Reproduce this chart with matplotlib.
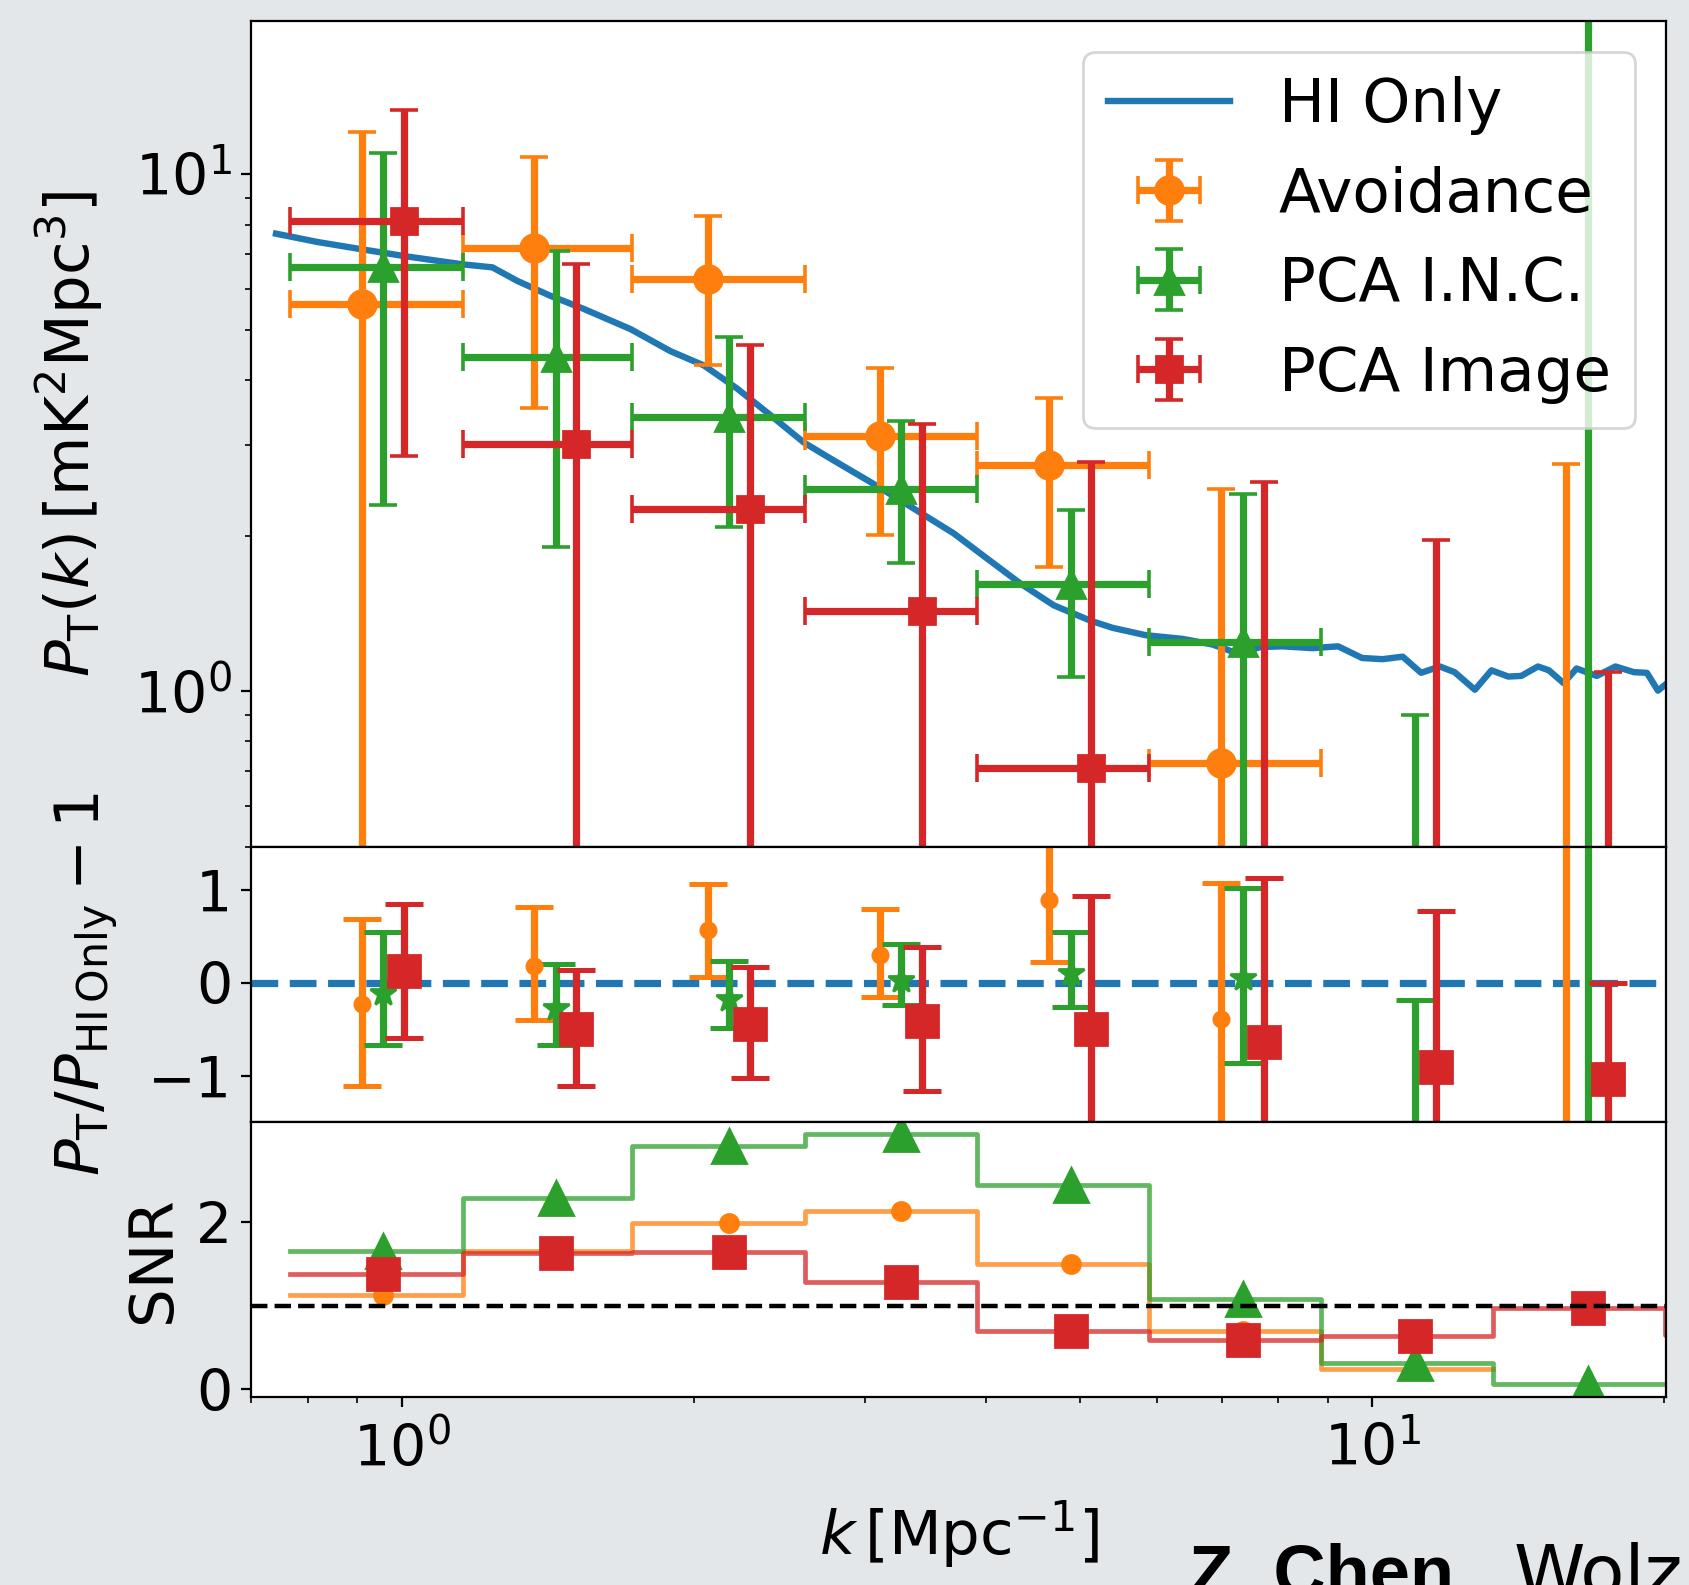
"""Binned transfer-function check: recovered P_T(k) against the HI-only spectrum."""

import numpy as np
import matplotlib

matplotlib.use("Agg")

import matplotlib.pyplot as plt

nan = np.nan

# k bins [1/Mpc]
k_edges = [0.767, 1.155, 1.727, 2.603, 3.914, 5.886, 8.862, 13.31, 20.03]
k_centres = [0.957, 1.441, 2.175, 3.273, 4.890, 7.361, 11.08, 16.67]

# HI-only reference spectrum
k_hi = [0.742, 0.819, 0.907, 1.006, 1.155, 1.240, 1.316, 1.424, 1.541, 1.721,
        1.892, 2.048, 2.217, 2.399, 2.596, 2.766, 3.041, 3.291, 3.706, 4.011,
        4.341, 4.697, 5.124, 5.400, 5.844, 6.379, 6.844, 7.278, 7.672, 8.087,
        8.676, 9.223, 9.764, 10.25, 10.75, 11.23, 11.74, 12.16, 12.76, 13.27,
        13.81, 14.24, 14.82, 15.21, 15.75, 16.24, 17.04, 17.81, 18.61, 19.19,
        19.70, 20.13]
p_hi = [7.68, 7.40, 7.17, 6.95, 6.70, 6.61, 6.22, 5.82, 5.49, 5.02,
        4.55, 4.27, 3.85, 3.42, 3.03, 2.82, 2.54, 2.32, 2.02, 1.806,
        1.616, 1.467, 1.370, 1.327, 1.284, 1.263, 1.232, 1.183, 1.218, 1.222,
        1.212, 1.222, 1.160, 1.154, 1.167, 1.086, 1.117, 1.089, 1.007, 1.098,
        1.068, 1.071, 1.117, 1.098, 1.037, 1.107, 1.071, 1.117, 1.089, 1.086,
        1.003, 1.037]

methods = ["Avoidance", "PCA I.N.C.", "PCA Image"]

# P_T(k) [mK^2 Mpc^3] with lower / upper ends of the 1-sigma bars
p_avoid = [5.61, 7.19, 6.29, 3.115, 2.735, 0.728, nan, -0.8]
p_avoid_lo = [-0.85, 3.53, 4.28, 2.01, 1.74, -1.0, nan, -4.3]
p_avoid_hi = [12.07, 10.80, 8.31, 4.23, 3.69, 2.46, nan, 2.75]

p_inc = [6.63, 4.43, 3.39, 2.465, 1.616, 1.243, -0.4, 25.0]
p_inc_lo = [2.296, 1.902, 2.08, 1.774, 1.067, -0.1, -1.7, -375.0]
p_inc_hi = [11.02, 7.11, 4.84, 3.33, 2.245, 2.41, 0.898, 425.0]

p_img = [8.12, 3.01, 2.255, 1.431, 0.710, 0.44, 0.11, 0.02]
p_img_lo = [2.85, -0.68, -0.17, -0.43, -1.36, -1.66, -1.74, -1.05]
p_img_hi = [13.35, 6.70, 4.68, 3.29, 2.78, 2.54, 1.963, 1.089]

# P_T / P_HI - 1
r_avoid = [-0.222, 0.186, 0.565, 0.297, 0.893, -0.386, nan, -1.75]
r_avoid_lo = [-1.107, -0.40, 0.064, -0.150, 0.225, -1.84, nan, -5.0]
r_avoid_hi = [0.686, 0.822, 1.064, 0.797, 1.56, 1.072, nan, 1.6]

r_inc = [-0.107, -0.275, -0.170, 0.036, 0.107, 0.054, -1.8, 22.0]
r_inc_lo = [-0.668, -0.668, -0.482, -0.239, -0.257, -0.857, -3.4, -330.0]
r_inc_hi = [0.554, 0.204, 0.232, 0.422, 0.554, 1.018, -0.179, 374.0]

r_img = [0.132, -0.493, -0.447, -0.411, -0.493, -0.632, -0.90, -1.03]
r_img_lo = [-0.589, -1.107, -1.025, -1.161, -1.92, -2.39, -2.58, -2.07]
r_img_hi = [0.850, 0.143, 0.171, 0.386, 0.936, 1.125, 0.78, 0.0]

# signal-to-noise per bin (last red bin runs past the plotted range)
snr_edges = k_edges + [30.0]
snr_avoid = [1.13, 1.66, 1.99, 2.14, 1.50, 0.70, 0.245, nan, nan]
snr_inc = [1.66, 2.29, 2.91, 3.06, 2.45, 1.08, 0.31, 0.064, nan]
snr_img = [1.375, 1.63, 1.64, 1.29, 0.70, 0.59, 0.64, 0.97, 0.65]

COLORS = {"Avoidance": "#ff7f0e", "PCA I.N.C.": "#2ca02c", "PCA Image": "#d62728"}
DODGE = {"Avoidance": 0.95, "PCA I.N.C.": 1.0, "PCA Image": 1.05}
MARK_P = {"Avoidance": ("o", 10), "PCA I.N.C.": ("^", 10), "PCA Image": ("s", 9.6)}
MARK_R = {"Avoidance": ("o", 5.5), "PCA I.N.C.": ("*", 10), "PCA Image": ("s", 11.5)}
MARK_S = {"Avoidance": ("o", 6.5), "PCA I.N.C.": ("^", 12), "PCA Image": ("s", 11.4)}


def _err(values, lo, hi):
    values = np.asarray(values, dtype=float)
    return values, np.vstack([values - np.asarray(lo, float), np.asarray(hi, float) - values])


def main():
    power = {
        "Avoidance": (p_avoid, p_avoid_lo, p_avoid_hi),
        "PCA I.N.C.": (p_inc, p_inc_lo, p_inc_hi),
        "PCA Image": (p_img, p_img_lo, p_img_hi),
    }
    ratio = {
        "Avoidance": (r_avoid, r_avoid_lo, r_avoid_hi),
        "PCA I.N.C.": (r_inc, r_inc_lo, r_inc_hi),
        "PCA Image": (r_img, r_img_lo, r_img_hi),
    }
    snr = {"Avoidance": snr_avoid, "PCA I.N.C.": snr_inc, "PCA Image": snr_img}

    fig = plt.figure(figsize=(8.45, 7.925), dpi=200, facecolor="#e4e7ea")
    gs = fig.add_gridspec(3, 1, height_ratios=[3, 1, 1], hspace=0,
                          left=0.1488, right=0.9858, top=0.9867, bottom=0.1183)
    ax_p = fig.add_subplot(gs[0])
    ax_r = fig.add_subplot(gs[1], sharex=ax_p)
    ax_s = fig.add_subplot(gs[2], sharex=ax_p)

    edges = np.asarray(k_edges)
    centres = np.asarray(k_centres)

    ax_p.plot(k_hi, p_hi, color="#1f77b4", lw=2.3, label="HI Only")
    ax_r.axhline(0, color="#1f77b4", ls="--", lw=2.6)

    for name in methods:
        color = COLORS[name]
        x = centres * DODGE[name]
        xerr = np.vstack([x - edges[:-1], edges[1:] - x])

        y, yerr = _err(*power[name])
        marker, ms = MARK_P[name]
        ax_p.errorbar(x, y, yerr=yerr, xerr=xerr, fmt=marker, ms=ms, color=color,
                      lw=2.6, capsize=5, capthick=1.3, label=name)

        y, yerr = _err(*ratio[name])
        marker, ms = MARK_R[name]
        ax_r.errorbar(x, y, yerr=yerr, fmt=marker, ms=ms, color=color,
                      lw=2.6, capsize=7, capthick=1.8)

        values = np.asarray(snr[name], dtype=float)
        ax_s.step(snr_edges, np.append(values, values[-1]), where="post",
                  color=color, lw=1.7, alpha=0.75)
        marker, ms = MARK_S[name]
        ax_s.plot(centres, values[:len(centres)], marker, ms=ms, color=color, ls="none")

    ax_s.axhline(1, color="black", ls="--", lw=1.6)

    ax_p.set_xscale("log")
    ax_p.set_yscale("log")
    ax_p.set_xlim(0.70, 20.08)
    ax_p.set_ylim(0.5, 19.8)
    ax_r.set_ylim(-1.5, 1.465)
    ax_s.set_ylim(-0.1, 3.2)
    ax_r.set_yticks([-1, 0, 1])
    ax_s.set_yticks([0, 2])

    for ax in (ax_p, ax_r):
        ax.tick_params(labelbottom=False)
    for ax in (ax_p, ax_r, ax_s):
        ax.tick_params(labelsize=20.5)
    ax_s.tick_params(axis="x", pad=5.5)

    ax_p.set_ylabel(r"$P_\mathrm{T}(k)\,[\mathrm{mK}^2\mathrm{Mpc}^3]$", fontsize=22, labelpad=10.5)
    ax_r.set_ylabel(r"$P_\mathrm{T}/P_\mathrm{HI\,Only}-1$", fontsize=22, labelpad=10)
    ax_s.set_ylabel("SNR", fontsize=22, labelpad=4.5)
    ax_s.set_xlabel(r"$k\,[\mathrm{Mpc}^{-1}]$", fontsize=22, labelpad=7)

    ax_p.legend(loc="upper right", fontsize=22)

    fig.text(0.7035, -0.007, "Z. Chen,", fontsize=26, fontweight="bold",
             family="Liberation Sans", va="baseline")
    fig.text(0.8955, -0.007, "Wolz", fontsize=26, family="DejaVu Sans", va="baseline")

    fig.savefig("out.png", dpi=200, facecolor=fig.get_facecolor())
    plt.close(fig)


if __name__ == "__main__":
    main()
